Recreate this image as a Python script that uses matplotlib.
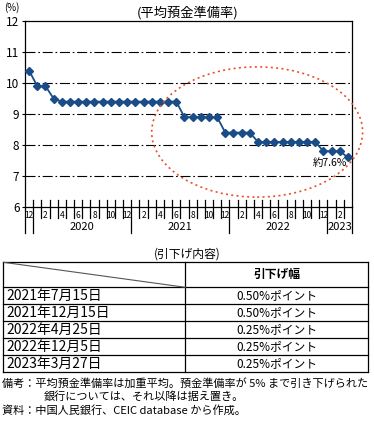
import matplotlib
matplotlib.use("Agg")
import matplotlib.pyplot as plt
from matplotlib.patches import Ellipse
from matplotlib.transforms import blended_transform_factory

plt.rcParams['font.family'] = ['Noto Sans CJK JP', 'DejaVu Sans']

# ---- data ----
start_year, start_month = 2019, 12
values = [10.4, 9.9, 9.9, 9.5] + [9.4] * 15 + [8.9] * 5 + [8.4] * 4 + [8.1] * 8 + [7.8] * 3 + [7.6]
yticks = [6, 7, 8, 9, 10, 11, 12]
grid_levels = [7, 8, 9, 10, 11]
title = "(平均預金準備率)"
unit = "(%)"
note_label = "約7.6%"

table_title = "(引下げ内容)"
table_header = "引下げ幅"
cut_dates = ["2021年7月15日", "2021年12月15日", "2022年4月25日", "2022年12月5日", "2023年3月27日"]
cut_sizes = ["0.50%ポイント", "0.50%ポイント", "0.25%ポイント", "0.25%ポイント", "0.25%ポイント"]
notes = [
    "備考：平均預金準備率は加重平均。預金準備率が 5% まで引き下げられた",
    "銀行については、それ以降は据え置き。",
    "資料：中国人民銀行、CEIC database から作成。",
]

n = len(values)
months = [((start_month - 1 + i) % 12) + 1 for i in range(n)]
years = [start_year + (start_month - 1 + i) // 12 for i in range(n)]
x = list(range(n))

W, H = 374, 422
fig = plt.figure(figsize=(W / 100, H / 100), dpi=100)

ax_l, ax_r, ax_t, ax_b = 25, 352, 21, 207
ax = fig.add_axes([ax_l / W, 1 - ax_b / H, (ax_r - ax_l) / W, (ax_b - ax_t) / H])
ax_h = ax_b - ax_t

line_color = '#1a4d88'
for lv in grid_levels:
    ax.axhline(lv, color='black', lw=0.8, linestyle=(0, (9, 2.5, 1.5, 2.5)), zorder=1)
ax.plot(x, values, color=line_color, lw=1.3, marker='D', markersize=4.2, zorder=3)

ax.set_xlim(-0.5, n - 0.5)
ax.set_ylim(min(yticks), max(yticks))
ax.set_yticks(yticks)
ax.set_yticklabels([str(v) for v in yticks], fontsize=8.5)
ax.tick_params(axis='y', length=2, width=0.8, pad=2)
ax.set_xticks([])
for s in ax.spines.values():
    s.set_linewidth(0.9)

tr = blended_transform_factory(ax.transData, ax.transAxes)
top_f = 7 / ax_h
mon_bot = -11 / ax_h
yr_bot = -26 / ax_h
for i in range(1, n):
    b = i - 0.5
    bot = yr_bot if months[i] == 1 else mon_bot
    ax.plot([b, b], [top_f, bot], color='black', lw=0.9, transform=tr, clip_on=False)
for b in (-0.5, n - 0.5):
    ax.plot([b, b], [0, yr_bot], color='black', lw=0.9, transform=tr, clip_on=False)

for i in range(n):
    if months[i] % 2 == 0:
        ax.text(i, -8 / ax_h, str(months[i]), transform=tr, ha='center', va='center',
                fontsize=6, clip_on=False)

yr_list = sorted(set(years))
for yv in yr_list:
    idx = [i for i in range(n) if years[i] == yv]
    if len(idx) < 2:
        continue
    ax.text((idx[0] + idx[-1]) / 2, -19.5 / ax_h, str(yv), transform=tr, ha='center',
            va='center', fontsize=8, clip_on=False)

# ellipse highlight
ell = Ellipse((27.9, 8.42), 25.8, 4.2, fill=False, edgecolor='#e8502a', lw=1.2,
              linestyle=(0, (1.2, 2.0)), clip_on=False, zorder=4)
ax.add_patch(ell)
ax.text(36.8, 7.42, note_label, ha='center', va='center', fontsize=7.5, zorder=5)

# overlay axes in pixel coordinates for texts and table
ov = fig.add_axes([0, 0, 1, 1])
ov.set_xlim(0, W)
ov.set_ylim(H, 0)
ov.axis('off')
ov.patch.set_alpha(0)

ov.text(188, 13, title, ha='center', va='center', fontsize=9.5)
ov.text(12, 8, unit, ha='center', va='center', fontsize=7)

ov.text(187, 254.5, table_title, ha='center', va='center', fontsize=8.5)
tl, tm, trr = 3.5, 185.3, 368
ttop, thead, tbot = 262.3, 287.3, 372
rh = (tbot - thead) / len(cut_dates)
lw_t = 0.9
ov.plot([tl, trr], [ttop, ttop], color='black', lw=lw_t)
ov.plot([tl, trr], [thead, thead], color='black', lw=lw_t)
for k in range(1, len(cut_dates) + 1):
    yy = thead + k * rh
    ov.plot([tl, trr], [yy, yy], color='black', lw=lw_t)
for xx in (tl, tm, trr):
    ov.plot([xx, xx], [ttop, tbot], color='black', lw=lw_t)
ov.plot([tl, tm], [ttop, thead], color='#555555', lw=0.8)
ov.text((tm + trr) / 2, (ttop + thead) / 2, table_header, ha='center', va='center',
        fontsize=8.5, fontweight='bold')
for k, (d, s) in enumerate(zip(cut_dates, cut_sizes)):
    yy = thead + (k + 0.5) * rh
    ov.text(tl + 2.5, yy, d, ha='left', va='center', fontsize=10)
    ov.text((tm + trr) / 2, yy, s, ha='center', va='center', fontsize=8.5)

ov.text(2.5, 383.3, notes[0], ha='left', va='center', fontsize=8)
ov.text(43.5, 396.7, notes[1], ha='left', va='center', fontsize=8)
ov.text(2.5, 410, notes[2], ha='left', va='center', fontsize=8)

fig.savefig('out.png', dpi=100)
